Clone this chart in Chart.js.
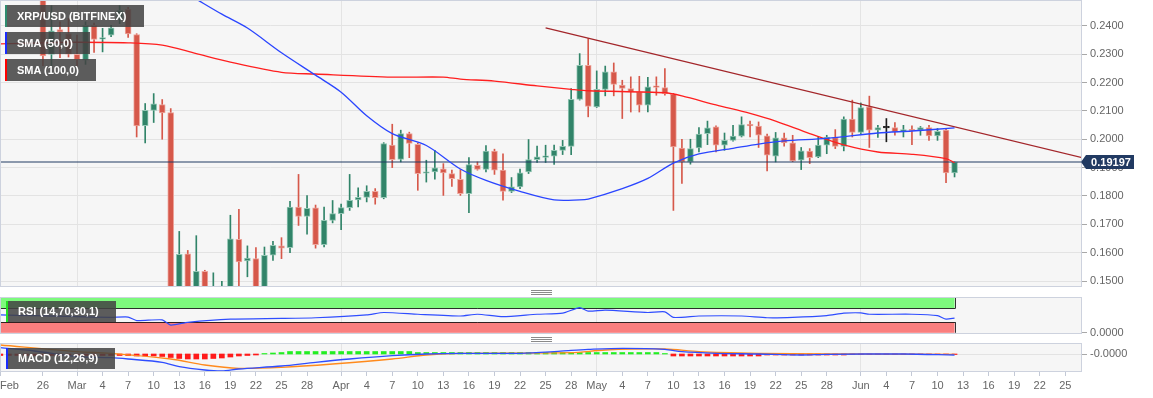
<!DOCTYPE html>
<html>
<head>
<meta charset="utf-8">
<script src="https://cdn.jsdelivr.net/npm/chart.js@4.4.1/dist/chart.umd.min.js"></script>
<style>
html,body{margin:0;padding:0;background:#fff;}
#wrap{position:relative;width:1153px;height:398px;overflow:hidden;font-family:"Liberation Sans",Arial,sans-serif;}
#wrap canvas{position:absolute;left:0;top:0;}
.lg{position:absolute;left:5px;height:22px;line-height:22px;background:rgba(66,66,66,0.86);color:#fff;font-size:11px;font-weight:bold;padding-left:12px;box-sizing:border-box;white-space:nowrap;}
.lg i{position:absolute;left:0;top:0;width:2px;height:100%;}
.grip{position:absolute;left:531px;width:21px;height:3px;border-top:1px solid #8a8a8a;border-bottom:1px solid #8a8a8a;}
.grip:after{content:"";position:absolute;left:0;right:0;top:1px;height:0;border-top:1px solid #8a8a8a;}
.xl{position:absolute;font-size:11px;color:#666;line-height:13px;}
</style>
</head>
<body>
<div id="wrap">
<canvas id="cMain" width="1153" height="398"></canvas>
<canvas id="cRsi" width="1153" height="398"></canvas>
<canvas id="cMacd" width="1153" height="398"></canvas>
<div class="lg" style="top:5px;width:139px;"><i style="background:#2e8b6e"></i>XRP/USD (BITFINEX)</div>
<div class="lg" style="top:32px;width:85px;"><i style="background:#1a2cff"></i>SMA (50,0)</div>
<div class="lg" style="top:59px;width:91px;"><i style="background:#ff0000"></i>SMA (100,0)</div>
<div class="lg" style="top:301px;left:6px;width:110px;height:21px;line-height:21px;"><i style="background:#22e022"></i>RSI (14,70,30,1)</div>
<div class="lg" style="top:348px;left:6px;width:109px;height:21px;line-height:21px;"><i style="background:#1a2cff"></i>MACD (12,26,9)</div>
<div class="grip" style="top:290px;"></div>
<div class="grip" style="top:337px;"></div>
<div class="xl" style="left:0px;top:379px;">Feb</div>
</div>
<script>
// ---------- DATA ----------
const dates = [
'2020-02-26','2020-02-27','2020-02-28','2020-02-29',
'2020-03-01','2020-03-02','2020-03-03','2020-03-04','2020-03-05','2020-03-06','2020-03-07','2020-03-08','2020-03-09','2020-03-10',
'2020-03-11','2020-03-12','2020-03-13','2020-03-14','2020-03-15','2020-03-16','2020-03-17','2020-03-18','2020-03-19','2020-03-20',
'2020-03-21','2020-03-22','2020-03-23','2020-03-24','2020-03-25','2020-03-26','2020-03-27','2020-03-28','2020-03-29','2020-03-30','2020-03-31',
'2020-04-01','2020-04-02','2020-04-03','2020-04-04','2020-04-05','2020-04-06','2020-04-07','2020-04-08','2020-04-09','2020-04-10',
'2020-04-11','2020-04-12','2020-04-13','2020-04-14','2020-04-15','2020-04-16','2020-04-17','2020-04-18','2020-04-19','2020-04-20',
'2020-04-21','2020-04-22','2020-04-23','2020-04-24','2020-04-25','2020-04-26','2020-04-27','2020-04-28','2020-04-29','2020-04-30',
'2020-05-01','2020-05-02','2020-05-03','2020-05-04','2020-05-05','2020-05-06','2020-05-07','2020-05-08','2020-05-09','2020-05-10',
'2020-05-11','2020-05-12','2020-05-13','2020-05-14','2020-05-15','2020-05-16','2020-05-17','2020-05-18','2020-05-19','2020-05-20',
'2020-05-21','2020-05-22','2020-05-23','2020-05-24','2020-05-25','2020-05-26','2020-05-27','2020-05-28','2020-05-29','2020-05-30','2020-05-31',
'2020-06-01','2020-06-02','2020-06-03','2020-06-04','2020-06-05','2020-06-06','2020-06-07','2020-06-08','2020-06-09','2020-06-10',
'2020-06-11','2020-06-12'];
const open = [
0.2555,0.2299,0.2387,0.2373,
0.2299,0.2279,0.2402,0.2353,0.2367,0.2426,0.2458,0.2369,0.2048,0.2102,
0.2122,0.2094,0.1390,0.1596,0.1455,0.1534,0.1450,0.1476,0.1475,0.1647,
0.1571,0.1579,0.1478,0.1591,0.1624,0.1618,0.1761,0.1728,0.1758,0.1628,0.1714,
0.1738,0.1759,0.1786,0.1795,0.1816,0.1794,0.1979,0.1929,0.2020,0.1982,
0.1880,0.1885,0.1896,0.1879,0.1859,0.1808,0.1908,0.1894,0.1958,0.1891,
0.1816,0.1832,0.1885,0.1928,0.1936,0.1940,0.1961,0.1975,0.2140,0.2261,
0.2114,0.2176,0.2238,0.2191,0.2179,0.2167,0.2120,0.2186,0.2182,0.2158,
0.1969,0.1920,0.1969,0.2020,0.2044,0.1979,0.1996,0.2011,0.2049,0.2046,
0.2012,0.1940,0.2005,0.1987,0.1926,0.1958,0.1938,0.1979,0.2006,0.1975,0.2071,
0.2024,0.2114,0.2032,0.2040,0.2041,0.2026,0.2034,0.2032,0.2041,0.2012,
0.2032,0.1881];
const high = [
0.2580,0.2471,0.2414,0.2426,
0.2367,0.2414,0.2410,0.2391,0.2402,0.2471,0.2465,0.2372,0.2126,0.2161,
0.2140,0.2108,0.1675,0.1608,0.1660,0.1538,0.1529,0.1499,0.1732,0.1753,
0.1624,0.1618,0.1620,0.1640,0.1653,0.1781,0.1876,0.1801,0.1768,0.1761,0.1784,
0.1771,0.1876,0.1829,0.1836,0.1826,0.1988,0.2053,0.2032,0.2025,0.1987,
0.1926,0.1961,0.1914,0.1891,0.1893,0.1935,0.1920,0.1978,0.1965,0.1949,
0.1865,0.1895,0.1999,0.1976,0.1979,0.1979,0.1996,0.2179,0.2302,0.2355,
0.2241,0.2258,0.2269,0.2208,0.2220,0.2222,0.2218,0.2220,0.2249,0.2162,
0.2000,0.2000,0.2041,0.2064,0.2047,0.2022,0.2049,0.2079,0.2064,0.2061,
0.2018,0.2024,0.2022,0.2014,0.1971,0.1967,0.2008,0.2014,0.2034,0.2079,0.2138,
0.2128,0.2152,0.2049,0.2073,0.2059,0.2049,0.2047,0.2045,0.2049,0.2038,
0.2038,0.1920];
const low = [
0.2259,0.2259,0.2288,0.2290,
0.2258,0.2264,0.2306,0.2308,0.2362,0.2408,0.2359,0.2008,0.1987,0.2059,
0.2000,0.1150,0.1300,0.1430,0.1440,0.1420,0.1420,0.1440,0.1460,0.1450,
0.1515,0.1460,0.1465,0.1573,0.1579,0.1600,0.1696,0.1665,0.1616,0.1620,0.1705,
0.1681,0.1749,0.1761,0.1779,0.1771,0.1790,0.1900,0.1920,0.1935,0.1820,
0.1849,0.1859,0.1802,0.1834,0.1802,0.1741,0.1891,0.1885,0.1876,0.1785,
0.1812,0.1826,0.1879,0.1918,0.1918,0.1911,0.1946,0.1946,0.2138,0.2079,
0.2112,0.2153,0.2153,0.2073,0.2096,0.2096,0.2096,0.2155,0.2155,0.1749,
0.1844,0.1912,0.1955,0.1981,0.1955,0.1961,0.1993,0.2008,0.2008,0.1971,
0.1888,0.1920,0.1976,0.1921,0.1893,0.1914,0.1935,0.1949,0.1967,0.1959,0.2008,
0.2020,0.1971,0.2006,0.1991,0.2014,0.2008,0.1981,0.2014,0.1996,0.1996,
0.1847,0.1867];
const close = [
0.2294,0.2382,0.2378,0.2300,
0.2281,0.2402,0.2352,0.2355,0.2393,0.2455,0.2371,0.2047,0.2102,0.2125,
0.2093,0.1390,0.1594,0.1455,0.1534,0.1460,0.1472,0.1482,0.1649,0.1567,
0.1581,0.1478,0.1591,0.1626,0.1616,0.1761,0.1728,0.1756,0.1628,0.1714,0.1738,
0.1759,0.1785,0.1795,0.1816,0.1794,0.1985,0.1928,0.2020,0.1985,0.1879,
0.1885,0.1899,0.1881,0.1861,0.1808,0.1911,0.1894,0.1958,0.1891,0.1816,
0.1832,0.1882,0.1928,0.1938,0.1941,0.1961,0.1975,0.2141,0.2261,0.2116,
0.2176,0.2238,0.2193,0.2179,0.2167,0.2120,0.2185,0.2183,0.2161,0.1973,
0.1920,0.1967,0.2018,0.2040,0.1979,0.1996,0.2011,0.2052,0.2047,0.2014,
0.1944,0.2005,0.1987,0.1924,0.1959,0.1935,0.1979,0.2008,0.1975,0.2071,0.2024,
0.2112,0.2032,0.2041,0.2040,0.2026,0.2034,0.2030,0.2041,0.2012,0.2028,
0.1881,0.19197];
const lastPrice = 0.19197;

const sma50Dates = ['2020-03-11','2020-03-15','2020-03-18','2020-03-21','2020-03-25','2020-03-29','2020-04-01','2020-04-04','2020-04-07','2020-04-11','2020-04-15','2020-04-18','2020-04-22','2020-04-26','2020-04-29','2020-04-30','2020-05-04','2020-05-07','2020-05-10','2020-05-13','2020-05-17','2020-05-20','2020-05-23','2020-05-28','2020-06-03','2020-06-07','2020-06-12'];
const sma50Values = [0.2565,0.2494,0.2441,0.2392,0.2305,0.2226,0.2166,0.2083,0.2020,0.1978,0.1895,0.1855,0.1816,0.1786,0.1786,0.1789,0.1826,0.1862,0.1916,0.1948,0.1968,0.1983,0.1994,0.2003,0.2022,0.2029,0.2040];

const sma100Dates = ['2020-02-21','2020-02-26','2020-03-01','2020-03-07','2020-03-11','2020-03-15','2020-03-19','2020-03-25','2020-03-29','2020-04-07','2020-04-13','2020-04-15','2020-04-19','2020-04-24','2020-04-28','2020-04-30','2020-05-09','2020-05-11','2020-05-15','2020-05-19','2020-05-22','2020-05-26','2020-05-30','2020-06-03','2020-06-07','2020-06-11','2020-06-12'];
const sma100Values = [0.2336,0.2340,0.2342,0.2340,0.2332,0.2302,0.2272,0.2236,0.2230,0.2219,0.2219,0.2212,0.2205,0.2188,0.2176,0.2171,0.2164,0.2153,0.2121,0.2091,0.2064,0.2020,0.1980,0.1955,0.1947,0.1932,0.1917];

const trendDates = ['2020-04-25','2020-06-27'];
const trendValues = [0.2393, 0.1935];

const priceLineDates = ['2020-02-20','2020-06-28'];

const yTicks = [0.15,0.16,0.17,0.18,0.19,0.20,0.21,0.22,0.23,0.24];

const rsiDates = ['2020-02-21','2020-02-25','2020-03-01','2020-03-05','2020-03-07','2020-03-08','2020-03-11','2020-03-12','2020-03-14','2020-03-19','2020-03-25','2020-03-29','2020-04-04','2020-04-06','2020-04-10','2020-04-15','2020-04-17','2020-04-20','2020-04-24','2020-04-27','2020-04-29','2020-04-30','2020-05-02','2020-05-07','2020-05-09','2020-05-10','2020-05-13','2020-05-18','2020-05-21','2020-05-24','2020-05-28','2020-05-30','2020-06-01','2020-06-02','2020-06-07','2020-06-10','2020-06-11','2020-06-12'];
const rsiValues = [51,49,46,44,45,35,37,22,30,39,41,43,51,58,53,48,53,46,53,56,72,62,65,58,60,44,48,48,43,44,49,56,57,53,53,49,39,42];

const macdDates = ['2020-02-21','2020-02-25','2020-03-01','2020-03-05','2020-03-07','2020-03-11','2020-03-13','2020-03-16','2020-03-18','2020-03-20','2020-03-25','2020-03-29','2020-04-02','2020-04-07','2020-04-11','2020-04-15','2020-04-22','2020-04-26','2020-04-28','2020-04-30','2020-05-04','2020-05-09','2020-05-11','2020-05-15','2020-05-20','2020-05-25','2020-05-28','2020-06-06','2020-06-12'];
const macdValues = [0.00315,0.0015,-0.00135,-0.00185,-0.0025,-0.00415,-0.00635,-0.008,-0.0085,-0.0075,-0.006,-0.00415,-0.0025,-0.00085,0,0.00035,0.00035,0.00115,0.0018,0.0023,0.00285,0.00235,0.00115,0.00035,0,-0.0005,-0.00015,0,-0.0005];

const signalDates = ['2020-02-21','2020-03-01','2020-03-05','2020-03-12','2020-03-16','2020-03-20','2020-03-25','2020-03-31','2020-04-07','2020-04-11','2020-04-15','2020-04-28','2020-05-02','2020-05-09','2020-05-13','2020-05-20','2020-05-28','2020-06-12'];
const signalValues = [0.0045,0.00115,0.00035,-0.0025,-0.0055,-0.00715,-0.00665,-0.005,-0.0025,-0.0005,0.00035,0.00065,0.002,0.0025,0.00115,0.00035,0,-0.00015];

const histDates = ['2020-02-21','2020-02-22','2020-02-23','2020-02-24','2020-02-25'].concat(dates);
const histValues = [
-0.00075,-0.00075,-0.00075,-0.00075,-0.00075,
-0.00075,-0.00075,-0.00075,-0.00075,
-0.00075,-0.00075,-0.00075,-0.00075,-0.00075,-0.00075,-0.00075,-0.001,-0.001,-0.001,
-0.00125,-0.00175,-0.00225,-0.0025,-0.0025,-0.0025,-0.00225,-0.002,-0.0015,-0.001,-0.00075,-0.0005,
0.00025,0.0005,0.00075,
0.00125,0.00125,0.00125,0.00125,0.00125,0.00125,0.00125,0.00125,0.00125,0.00125,0.00125,0.00125,0.00125,0.00125,0.00125,
0.00075,0.00075,0.00075,0.00075,0.00075,0.00075,0.00075,0.00075,0.00075,0.00075,0.00075,0.00075,0.00075,0.00075,0.00075,
0.00075,0.00075,0.00075,0.00075,0.00075,0.00075,0.00075,0.00075,0.00075,0.00075,0.00075,0.00075,0.00075,0.00075,
0.00025,
-0.001,-0.001,-0.001,-0.001,-0.001,-0.001,-0.001,-0.001,-0.001,-0.001,-0.001,
-0.0005,-0.0005,-0.0005,-0.0005,-0.0005,-0.0005,-0.0005,-0.0005,-0.0005,-0.0005,
-0.00025,-0.00025,-0.00025,-0.00025,-0.00025,-0.00025,-0.00025,-0.00025,-0.00025,-0.00025,-0.00025,-0.00025,-0.00025];

const tickDates = ['2020-02-21','2020-02-26','2020-03-01','2020-03-04','2020-03-07','2020-03-10','2020-03-13','2020-03-16','2020-03-19','2020-03-22','2020-03-25','2020-03-28',
'2020-04-01','2020-04-04','2020-04-07','2020-04-10','2020-04-13','2020-04-16','2020-04-19','2020-04-22','2020-04-25','2020-04-28',
'2020-05-01','2020-05-04','2020-05-07','2020-05-10','2020-05-13','2020-05-16','2020-05-19','2020-05-22','2020-05-25','2020-05-28',
'2020-06-01','2020-06-04','2020-06-07','2020-06-10','2020-06-13','2020-06-16','2020-06-19','2020-06-22','2020-06-25'];
const monthNames = ['Jan','Feb','Mar','Apr','May','Jun','Jul'];

// ---------- HELPERS ----------
const D0 = Date.UTC(2020, 2, 1);
const dayOf = s => (Date.UTC(+s.slice(0,4), +s.slice(5,7)-1, +s.slice(8,10)) - D0) / 864e5;
const tickDays = tickDates.map(dayOf);
const tickLabels = tickDates.map((s,i) => i === 0 ? '' : (+s.slice(8,10) === 1 ? monthNames[+s.slice(5,7)-1] : String(+s.slice(8,10))));
const monthDays = tickDates.filter(s => +s.slice(8,10) === 1).map(dayOf);
const X_MIN = -9.04, X_MAX = 117.96;

const GREEN = '#318469', RED = '#d6584a', GREEN_B = '#93c6b4', RED_B = '#eda79e', DOJI = '#1c1c1c';
const cColor = i => close[i] > open[i] ? GREEN : (close[i] < open[i] ? RED : DOJI);
const cBorder = i => close[i] > open[i] ? GREEN_B : (close[i] < open[i] ? RED_B : DOJI);

Chart.defaults.font.family = '"Liberation Sans", Arial, sans-serif';
Chart.defaults.font.size = 11;
Chart.defaults.animation = false;

function xScale(show) {
  return {
    type: 'linear', min: X_MIN, max: X_MAX, offset: false, display: true,
    afterBuildTicks: s => { s.ticks = tickDays.map(v => ({ value: v })); },
    afterFit: s => { s.paddingLeft = 0; s.paddingRight = 0; s.height = show ? 26 : 0; },
    grid: {
      offset: false, drawTicks: show, tickLength: 4, tickColor: '#c3c9d6', lineWidth: 1,
      color: c => (c.tick && monthDays.includes(c.tick.value)) ? '#e4e4e4' : 'rgba(0,0,0,0)'
    },
    border: { display: false },
    ticks: {
      display: show, autoSkip: false, maxRotation: 0, minRotation: 0, padding: 3, color: '#666',
      font: { size: 11 }, callback: (v, i) => tickLabels[i]
    }
  };
}
function yScale(min, max, ticks, fmt, gridOnArea) {
  return {
    type: 'linear', position: 'right', min, max, beginAtZero: false,
    afterBuildTicks: s => { s.ticks = ticks.map(v => ({ value: v })); },
    afterFit: s => { s.width = 71; s.paddingTop = 0; s.paddingBottom = 0; },
    grid: { color: '#e3e3e3', drawOnChartArea: gridOnArea, drawTicks: true, tickLength: 5, tickColor: '#a8a8a8' },
    border: { display: false },
    ticks: { padding: 3, color: '#666', font: { size: 11 }, callback: fmt }
  };
}
const paneBg = {
  id: 'paneBg',
  beforeDraw(chart) {
    const a = chart.chartArea, ctx = chart.ctx;
    ctx.save(); ctx.fillStyle = '#f6f6f6';
    ctx.fillRect(a.left, a.top, a.right - a.left, a.bottom - a.top); ctx.restore();
  },
  afterDraw(chart) {
    const a = chart.chartArea, ctx = chart.ctx;
    ctx.save(); ctx.strokeStyle = '#cdd2de'; ctx.lineWidth = 1;
    ctx.strokeRect(Math.round(a.left) + 0.5, Math.round(a.top) + 0.5, Math.round(a.right - a.left) - 1, Math.round(a.bottom - a.top) - 1);
    ctx.restore();
  }
};
const pts = (ds, vs) => ds.map((s, i) => ({ x: dayOf(s), y: vs[i] }));
const commonOpts = (padTop, padBottom) => ({
  responsive: false, animation: false, events: [],
  layout: { padding: { left: 0, right: 0, top: padTop, bottom: padBottom } },
  plugins: { legend: { display: false }, tooltip: { enabled: false } }
});

// ---------- MAIN CHART ----------
const cDays = dates.map(dayOf);
const priceTag = {
  id: 'priceTag',
  afterDraw(chart) {
    const y = chart.scales.y.getPixelForValue(lastPrice), ctx = chart.ctx;
    const x0 = chart.chartArea.right + 4, x1 = x0 + 48, h = 14;
    ctx.save();
    ctx.fillStyle = '#213a62';
    ctx.beginPath(); ctx.moveTo(x0 - 5, y); ctx.lineTo(x0, y - h / 2); ctx.lineTo(x1, y - h / 2);
    ctx.lineTo(x1, y + h / 2); ctx.lineTo(x0, y + h / 2); ctx.closePath(); ctx.fill();
    ctx.fillStyle = '#fff'; ctx.font = 'bold 11px "Liberation Sans", Arial, sans-serif';
    ctx.textAlign = 'center'; ctx.textBaseline = 'middle';
    ctx.fillText(lastPrice.toFixed(5), (x0 + x1) / 2 + 1, y + 0.5);
    ctx.restore();
  }
};
new Chart(document.getElementById('cMain'), {
  type: 'bar',
  data: {
    datasets: [
      { type: 'line', data: pts(sma50Dates, sma50Values), borderColor: '#2a45ff', borderWidth: 1.3, pointRadius: 0, tension: 0.3, order: 1 },
      { type: 'line', data: pts(sma100Dates, sma100Values), borderColor: '#ff1f1f', borderWidth: 1.3, pointRadius: 0, tension: 0.3, order: 2 },
      { type: 'line', data: pts(trendDates, trendValues), borderColor: '#a3262a', borderWidth: 1.3, pointRadius: 0, order: 3 },
      { type: 'line', data: pts(priceLineDates, [lastPrice, lastPrice]), borderColor: '#213a62', borderWidth: 1.2, pointRadius: 0, order: 4 },
      { type: 'bar', data: cDays.map((x, i) => ({ x, y: [low[i], high[i]] })), backgroundColor: cDays.map((x, i) => cColor(i)),
        borderWidth: 0, grouped: false, maxBarThickness: 1, barPercentage: 1, categoryPercentage: 1, order: 11 },
      { type: 'bar', data: cDays.map((x, i) => ({ x, y: [open[i], close[i]] })), backgroundColor: cDays.map((x, i) => cColor(i)),
        borderColor: cDays.map((x, i) => cBorder(i)), borderWidth: 1, borderSkipped: false, minBarLength: 1.5,
        grouped: false, maxBarThickness: 6, barPercentage: 1, categoryPercentage: 1, order: 10 }
    ]
  },
  options: Object.assign(commonOpts(0, 111), {
    scales: { x: xScale(false), y: yScale(0.1479, 0.2491, yTicks, v => v.toFixed(4), true) }
  }),
  plugins: [paneBg, priceTag]
});

// ---------- RSI ----------
const rsiBands = {
  id: 'rsiBands',
  beforeDatasetsDraw(chart) {
    const { ctx, scales: { x, y } } = chart;
    const xl = x.getPixelForValue(X_MIN), xr = x.getPixelForValue(dayOf(rsiDates[rsiDates.length - 1]));
    const band = (lo, hi, col, edge) => {
      const yt = y.getPixelForValue(hi), yb = y.getPixelForValue(lo);
      ctx.fillStyle = col; ctx.fillRect(xl, yt, xr - xl, yb - yt);
      ctx.strokeStyle = 'rgba(0,0,0,0.8)'; ctx.lineWidth = 1;
      ctx.beginPath();
      const ye = Math.round(edge === 'bottom' ? yb : yt) + 0.5;
      ctx.moveTo(xl, ye); ctx.lineTo(Math.round(xr) + 0.5, ye);
      ctx.moveTo(Math.round(xr) + 0.5, yt); ctx.lineTo(Math.round(xr) + 0.5, yb);
      ctx.moveTo(xl + 0.5, yt); ctx.lineTo(xl + 0.5, yb);
      ctx.stroke();
    };
    ctx.save();
    band(70, 100, '#7dfa7d', 'bottom');
    band(0, 30, '#fa7e7e', 'top');
    ctx.restore();
  }
};
new Chart(document.getElementById('cRsi'), {
  type: 'line',
  data: { datasets: [
    { data: pts(rsiDates, rsiValues), borderColor: '#2f4dff', borderWidth: 1.2, pointRadius: 0, tension: 0.2 }
  ] },
  options: Object.assign(commonOpts(297, 64), {
    scales: { x: xScale(false), y: yScale(-3.4, 102.3, [0], v => '0.0000', false) }
  }),
  plugins: [paneBg, rsiBands]
});

// ---------- MACD ----------
new Chart(document.getElementById('cMacd'), {
  type: 'bar',
  data: { datasets: [
    { type: 'line', data: pts(macdDates, macdValues), borderColor: '#2f4dff', borderWidth: 1.3, pointRadius: 0, tension: 0.3, order: 1 },
    { type: 'line', data: pts(signalDates, signalValues), borderColor: '#ff8a1c', borderWidth: 1.3, pointRadius: 0, tension: 0.3, order: 2 },
    { type: 'bar', data: pts(histDates, histValues), backgroundColor: histValues.map(v => v >= 0 ? '#22ee22' : '#ff1a1a'),
      borderWidth: 0, grouped: false, maxBarThickness: 5, barPercentage: 1, categoryPercentage: 1, order: 5 }
  ] },
  options: Object.assign(commonOpts(343, 0), {
    scales: { x: xScale(true), y: yScale(-0.009, 0.0055, [-0.00001], v => v.toFixed(4), true) }
  }),
  plugins: [paneBg]
});
</script>
</body>
</html>
